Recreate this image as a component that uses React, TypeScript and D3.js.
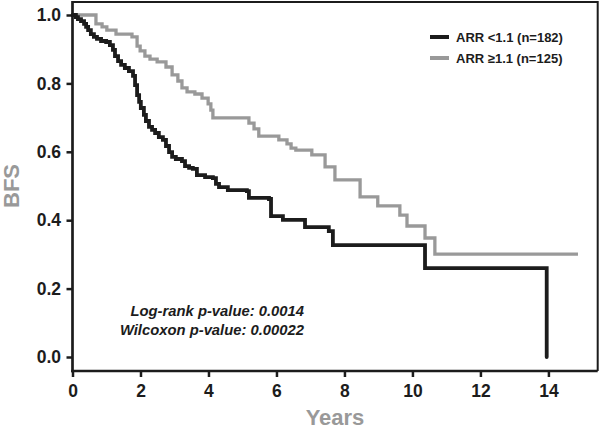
import React, { useEffect, useRef } from 'react';
import * as d3 from 'd3';

// Kaplan-Meier steps: [years, BFS]
const lowArr: [number, number][] = [
  [0, 1], [0.1, 0.994], [0.16, 0.988], [0.25, 0.982], [0.34, 0.974], [0.4, 0.965],
  [0.46, 0.956], [0.54, 0.944], [0.63, 0.936], [0.72, 0.93], [0.84, 0.924], [0.99, 0.921],
  [1.1, 0.912], [1.19, 0.898], [1.25, 0.88], [1.34, 0.865], [1.43, 0.854], [1.54, 0.845],
  [1.66, 0.836], [1.78, 0.822], [1.84, 0.795], [1.9, 0.766], [1.96, 0.746], [2.01, 0.728],
  [2.1, 0.708], [2.16, 0.69], [2.25, 0.673], [2.34, 0.664], [2.43, 0.655], [2.54, 0.643],
  [2.66, 0.635], [2.75, 0.617], [2.84, 0.599], [2.93, 0.585], [3.04, 0.579], [3.22, 0.573],
  [3.31, 0.558], [3.43, 0.553], [3.54, 0.55], [3.66, 0.532], [3.9, 0.526], [4.13, 0.523],
  [4.22, 0.506], [4.31, 0.497], [4.57, 0.488], [5.13, 0.485], [5.19, 0.465], [5.78, 0.462],
  [5.84, 0.412], [6.19, 0.401], [6.84, 0.38], [7.54, 0.368], [7.66, 0.327], [10.37, 0.26],
  [13.95, 0],
];

const highArr: [number, number][] = [
  [0, 1], [0.69, 0.974], [0.87, 0.965], [1.01, 0.956], [1.28, 0.944], [1.75, 0.936],
  [1.9, 0.909], [1.99, 0.895], [2.13, 0.88], [2.28, 0.871], [2.49, 0.863], [2.75, 0.848],
  [2.93, 0.825], [3.1, 0.807], [3.22, 0.787], [3.37, 0.775], [3.6, 0.769], [3.81, 0.757],
  [3.99, 0.74], [4.07, 0.722], [4.13, 0.699], [5.19, 0.684], [5.34, 0.667], [5.48, 0.646],
  [6.07, 0.635], [6.31, 0.623], [6.43, 0.611], [6.57, 0.605], [7.04, 0.591], [7.43, 0.556],
  [7.72, 0.518], [8.46, 0.468], [8.98, 0.442], [9.63, 0.415], [9.84, 0.383], [10.37, 0.348],
  [10.66, 0.301], [14.87, 0.301],
];

const xTicks = [0, 2, 4, 6, 8, 10, 12, 14];
const yTicks = [0, 0.2, 0.4, 0.6, 0.8, 1.0];
const legendLabels = ['ARR <1.1 (n=182)', 'ARR \u22651.1 (n=125)'];
const pValueLines = ['Log-rank p-value: 0.0014', 'Wilcoxon p-value: 0.00022'];

const BLACK = '#1c1c1c';
const GREY = '#999999';
const FONT = '"Liberation Sans", Arial, Helvetica, sans-serif';

export default function App() {
  const svgRef = useRef<SVGSVGElement>(null);

  useEffect(() => {
    const width = 600;
    const height = 431;
    const svg = d3.select(svgRef.current).attr('width', width).attr('height', height);
    svg.selectAll('*').remove();

    const x = d3.scaleLinear().domain([0, 15.45]).range([72.5, 597.7]);
    const y = d3.scaleLinear().domain([0, 1]).range([357, 15]);
    const top = 2;
    const bottom = 371;

    // frame (top + right)
    svg.append('path')
      .attr('d', `M${x(0)},${top}H${x(15.45)}V${bottom}`)
      .attr('fill', 'none')
      .attr('stroke', BLACK)
      .attr('stroke-width', 2);

    // axes
    const yAxis = svg.append('g')
      .attr('transform', `translate(${x(0)},0)`)
      .call(d3.axisLeft(y).tickValues(yTicks).tickFormat(d3.format('.1f')).tickSize(6).tickPadding(5.5));
    yAxis.select('.domain').remove();

    const xAxis = svg.append('g')
      .attr('transform', `translate(0,${bottom})`)
      .call(d3.axisBottom(x).tickValues(xTicks).tickFormat(d3.format('d')).tickSize(6).tickPadding(8));
    xAxis.select('.domain').remove();

    svg.selectAll('.tick line').attr('stroke', BLACK).attr('stroke-width', 2.5);
    svg.selectAll('.tick text')
      .attr('fill', BLACK)
      .style('font-family', FONT)
      .style('font-size', '17.5px')
      .style('font-weight', 'bold');

    svg.append('line')
      .attr('x1', x(0)).attr('x2', x(0)).attr('y1', top - 1).attr('y2', bottom + 1.25)
      .attr('stroke', BLACK).attr('stroke-width', 2.7);
    svg.append('line')
      .attr('x1', x(0) - 1.35).attr('x2', x(15.45)).attr('y1', bottom).attr('y2', bottom)
      .attr('stroke', BLACK).attr('stroke-width', 2.7);

    // curves
    const line = d3.line<[number, number]>()
      .x(d => x(d[0]))
      .y(d => y(d[1]))
      .curve(d3.curveStepAfter);

    svg.append('path')
      .datum(highArr)
      .attr('d', line)
      .attr('fill', 'none')
      .attr('stroke', GREY)
      .attr('stroke-width', 3.3);

    svg.append('path')
      .datum(lowArr)
      .attr('d', line)
      .attr('fill', 'none')
      .attr('stroke', BLACK)
      .attr('stroke-width', 3.8)
      .attr('stroke-linecap', 'round');

    // legend
    const legend = svg.append('g').attr('transform', 'translate(430,37)');
    legendLabels.forEach((label, i) => {
      const g = legend.append('g').attr('transform', `translate(0,${i * 21})`);
      g.append('line')
        .attr('x1', 0).attr('x2', 19).attr('y1', 0).attr('y2', 0)
        .attr('stroke', i === 0 ? BLACK : GREY)
        .attr('stroke-width', 4);
      g.append('text')
        .attr('x', 26).attr('y', 0).attr('dy', '0.36em')
        .attr('fill', BLACK)
        .style('font-family', FONT)
        .style('font-size', '13px')
        .style('font-weight', 'bold')
        .text(label);
    });

    // p-values
    pValueLines.forEach((t, i) => {
      svg.append('text')
        .attr('x', 304).attr('y', 316 + i * 19)
        .attr('text-anchor', 'end')
        .attr('fill', BLACK)
        .style('font-family', FONT)
        .style('font-size', '14.8px')
        .style('font-weight', 'bold')
        .style('font-style', 'italic')
        .text(t);
    });

    // axis titles
    svg.append('text')
      .attr('transform', 'translate(19,186) rotate(-90)')
      .attr('text-anchor', 'middle')
      .attr('fill', GREY)
      .style('font-family', FONT)
      .style('font-size', '22px')
      .style('font-weight', 'bold')
      .text('BFS');

    svg.append('text')
      .attr('x', 335).attr('y', 425)
      .attr('text-anchor', 'middle')
      .attr('fill', GREY)
      .style('font-family', FONT)
      .style('font-size', '22px')
      .style('font-weight', 'bold')
      .text('Years');
  }, []);

  return (
    <svg ref={svgRef} style={{ position: 'absolute', left: 0, top: 0, background: '#fff' }}></svg>
  );
}
